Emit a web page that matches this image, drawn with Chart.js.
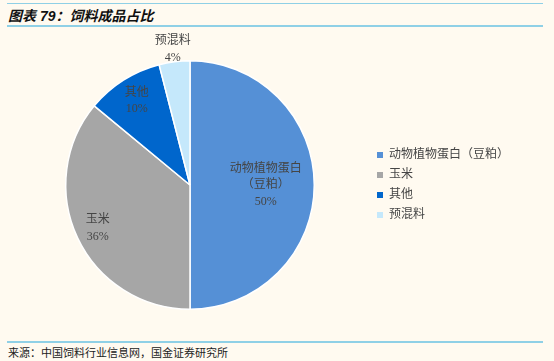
<!DOCTYPE html>
<html>
<head>
<meta charset="utf-8">
<script src="https://cdn.jsdelivr.net/npm/chart.js@4"></script>
<style>
    html, body { margin: 0; padding: 0; background: #fffaf0; }
    #page { position: relative; width: 554px; height: 361px; overflow: hidden; background: #fffaf0; }
    .rule { position: absolute; left: 7px; width: 536px; background: #8fd0e6; }
    #title { position: absolute; left: 8px; top: 5px; font: italic bold 14px "Liberation Sans", "Noto Sans CJK SC", sans-serif; color: #111; }
    #source { position: absolute; left: 8px; top: 344px; font: 11px "Noto Sans CJK SC", sans-serif; color: #222; }
    #wrap { position: absolute; left: 0; top: 28px; width: 554px; height: 302px; }
</style>
</head>
<body>
<div id="page">
    <div class="rule" style="top:3px;height:1px;"></div>
    <div id="title">图表 79：饲料成品占比</div>
    <div class="rule" style="top:25px;height:2px;"></div>
    <div id="wrap"><canvas id="chart"></canvas></div>
    <div class="rule" style="top:341px;height:2px;"></div>
    <div id="source">来源：中国饲料行业信息网，国金证券研究所</div>
</div>
<script>
// data
let categories = ['动物植物蛋白（豆粕）', '玉米', '其他', '预混料'];
let sliceLabels = [['动物植物蛋白', '（豆粕）'], ['玉米'], ['其他'], ['预混料']];
let shares = [50, 36, 10, 4];
let colors = ['#5590d6', '#a6a6a6', '#0066cc', '#c5e8fb'];

// where each slice label sits, as a fraction of the radius
let labelRadius = [0.61, 0.82, 0.8, 1.1];

const labelFont = '12px "Liberation Serif", "Noto Sans CJK SC", serif';

let sliceLabelPlugin = {
    id: 'sliceLabels',
    afterDatasetsDraw: function(chart) {
        let ctx = chart.ctx;
        let arcs = chart.getDatasetMeta(0).data;
        ctx.save();
        ctx.font = labelFont;
        ctx.fillStyle = '#454545';
        ctx.textAlign = 'center';
        ctx.textBaseline = 'middle';
        arcs.forEach(function(arc, i) {
            let p = arc.getProps(['x', 'y', 'startAngle', 'endAngle', 'outerRadius']);
            let mid = (p.startAngle + p.endAngle) / 2;
            let r = p.outerRadius * labelRadius[i];
            let cx = p.x + Math.cos(mid) * r;
            let cy = p.y + Math.sin(mid) * r;
            let lines = sliceLabels[i].concat([shares[i] + '%']);
            let lh = 16.5;
            let top = cy - (lines.length - 1) * lh / 2;
            lines.forEach(function(line, j) {
                ctx.fillText(line, cx, top + j * lh);
            });
        });
        ctx.restore();
    }
};

let legendPlugin = {
    id: 'sideLegend',
    afterDraw: function(chart) {
        let ctx = chart.ctx;
        ctx.save();
        ctx.font = labelFont;
        ctx.textBaseline = 'middle';
        categories.forEach(function(name, i) {
            let y = 127 + i * 20;
            ctx.fillStyle = colors[i];
            ctx.fillRect(377, y - 3, 6, 6);
            ctx.fillStyle = '#454545';
            ctx.fillText(name, 389, y);
        });
        ctx.restore();
    }
};

let chart = new Chart(document.getElementById('chart').getContext('2d'), {
    type: 'pie',
    data: {
        labels: categories,
        datasets: [{
            data: shares,
            backgroundColor: colors,
            borderColor: '#ffffff',
            borderWidth: 1.5
        }]
    },
    options: {
        responsive: true,
        maintainAspectRatio: false,
        animation: false,
        layout: { padding: { top: 32, bottom: 20, left: 65, right: 239 } },
        plugins: {
            legend: { display: false },
            tooltip: { enabled: false }
        }
    },
    plugins: [sliceLabelPlugin, legendPlugin]
});
</script>
</body>
</html>
